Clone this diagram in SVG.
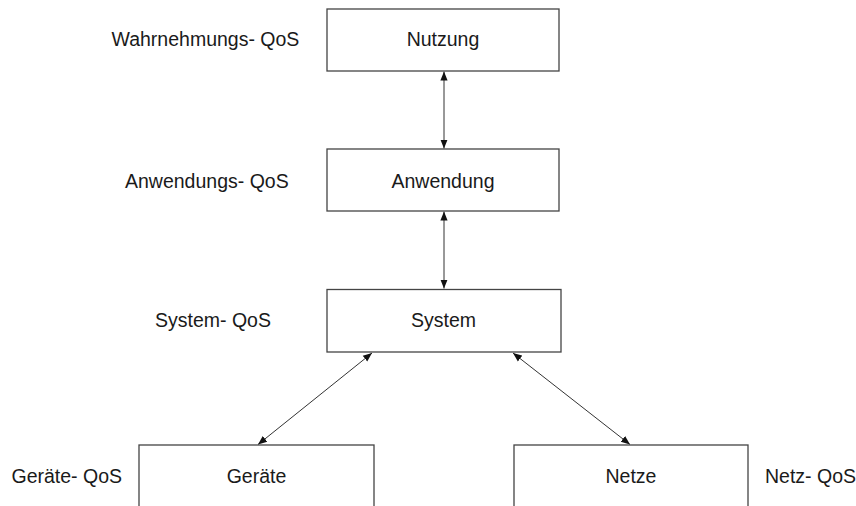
<svg xmlns="http://www.w3.org/2000/svg" width="856" height="506" viewBox="0 0 856 506">
  <style>
    .box { fill: #ffffff; stroke: #444444; stroke-width: 1.3; }
    .lbl { font-family: "Liberation Sans", Arial, sans-serif; font-size: 19.5px; fill: #1a1a1a; }
    .mid { text-anchor: middle; }
    .link { stroke: #333333; stroke-width: 1; fill: none; marker-start: url(#head); marker-end: url(#head); }
  </style>
  <defs>
    <marker id="head" viewBox="0 0 10 10" refX="10" refY="5" markerWidth="9" markerHeight="9" markerUnits="userSpaceOnUse" orient="auto-start-reverse">
      <path d="M0,1 L10,5 L0,9 Z" fill="#111111"/>
    </marker>
  </defs>
  <rect width="856" height="506" fill="#ffffff"/>

  <!-- connectors -->
  <g id="connectors">
    <line class="link" x1="444" y1="71.5" x2="444" y2="148.5"/>
    <line class="link" x1="444" y1="211.5" x2="444" y2="288.5"/>
    <line class="link" x1="372" y1="353" x2="258" y2="444.5"/>
    <line class="link" x1="513" y1="353" x2="630" y2="444.5"/>
  </g>

  <!-- QoS level labels -->
  <g id="levels">
    <text class="lbl" x="111.5" y="45.7">Wahrnehmungs- QoS</text>
    <text class="lbl" x="125" y="188">Anwendungs- QoS</text>
    <text class="lbl" x="155" y="327">System- QoS</text>
    <text class="lbl" x="11.5" y="482.7">Geräte- QoS</text>
    <text class="lbl" x="765" y="482.7">Netz- QoS</text>
  </g>

  <g id="nutzung">
    <rect class="box" x="327" y="9" width="232" height="62"/>
    <text class="lbl mid" x="443" y="45.7">Nutzung</text>
  </g>
  <g id="anwendung">
    <rect class="box" x="327" y="149" width="232" height="62"/>
    <text class="lbl mid" x="443" y="188">Anwendung</text>
  </g>
  <g id="system">
    <rect class="box" x="327" y="289.5" width="234" height="62.5"/>
    <text class="lbl mid" x="443.5" y="327">System</text>
  </g>
  <g id="geraete">
    <rect class="box" x="139" y="445" width="235" height="80"/>
    <text class="lbl mid" x="256.5" y="482.7">Geräte</text>
  </g>
  <g id="netze">
    <rect class="box" x="514" y="445" width="234" height="80"/>
    <text class="lbl mid" x="631" y="482.7">Netze</text>
  </g>
</svg>
